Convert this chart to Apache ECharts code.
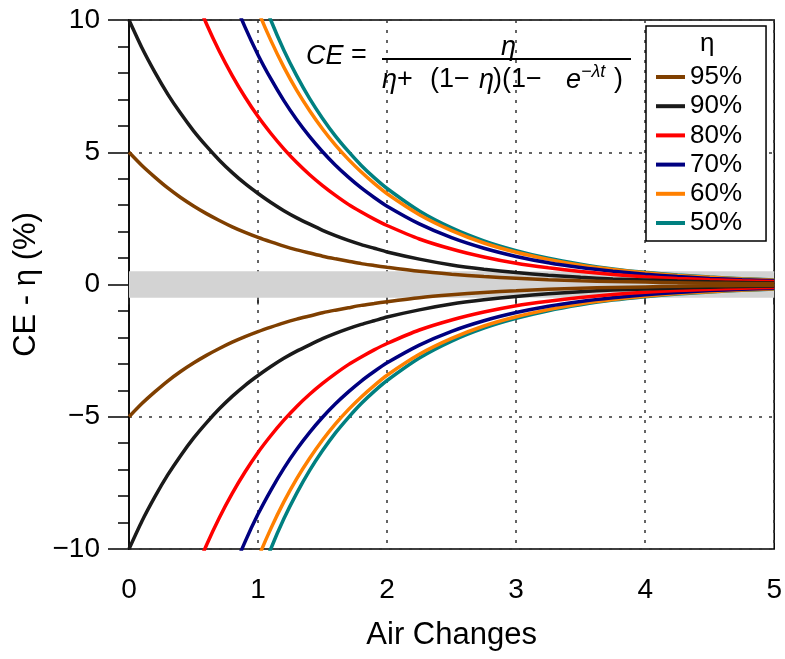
<!DOCTYPE html>
<html>
<head>
<meta charset="utf-8">
<script src="https://cdn.jsdelivr.net/npm/echarts@6/dist/echarts.min.js"></script>
<style>html,body{margin:0;padding:0;background:#fff;}#c{width:785px;height:659px;}</style>
</head>
<body>
<div id="c"></div>
<script>
// Air changes (x)
const airChanges = [0,0.1,0.2,0.3,0.4,0.5,0.6,0.7,0.8,0.9,1.0,1.1,1.2,1.3,1.4,1.5,1.6,1.7,1.8,1.9,2.0,2.25,2.5,2.75,3.0,3.25,3.5,3.75,4.0,4.25,4.5,4.75,5.0];
const seriesNames = ['95%','90%','80%','70%','60%','50%'];
const seriesColors = ['#7f3f00','#1a1a1a','#ff0000','#000080','#ff8000','#008080'];
// Upper branch: CE - eta (%)
const upper95 = [5.00,4.50,4.06,3.65,3.29,2.97,2.68,2.42,2.18,1.97,1.78,1.61,1.45,1.31,1.19,1.07,0.97,0.88,0.79,0.72,0.65,0.50,0.39,0.30,0.24,0.18,0.14,0.11,0.09,0.07,0.05,0.04,0.03];
const upper90 = [10.00,8.95,8.03,7.20,6.47,5.81,5.23,4.70,4.23,3.81,3.44,3.10,2.79,2.52,2.28,2.05,1.85,1.67,1.51,1.37,1.23,0.96,0.74,0.58,0.45,0.35,0.27,0.21,0.17,0.13,0.10,0.08,0.06];
const upper80 = [20.00,17.68,15.66,13.91,12.39,11.04,9.86,8.82,7.90,7.08,6.35,5.71,5.13,4.61,4.15,3.74,3.37,3.03,2.74,2.47,2.23,1.72,1.34,1.04,0.80,0.63,0.49,0.38,0.29,0.23,0.18,0.14,0.11];
const upper70 = [30.00,26.08,22.79,20.00,17.62,15.57,13.80,12.25,10.91,9.72,8.68,7.77,6.95,6.23,5.59,5.02,4.51,4.06,3.65,3.29,2.96,2.29,1.77,1.37,1.06,0.82,0.64,0.50,0.39,0.30,0.23,0.18,0.14];
const upper60 = [40.00,34.03,29.22,25.27,21.98,19.22,16.88,14.87,13.15,11.65,10.35,9.22,8.22,7.34,6.57,5.88,5.27,4.73,4.25,3.82,3.43,2.64,2.04,1.57,1.22,0.95,0.73,0.57,0.44,0.34,0.27,0.21,0.16];
const upper50 = [50.00,41.31,34.65,29.42,25.21,21.76,18.91,16.52,14.49,12.76,11.27,9.98,8.86,7.89,7.03,6.28,5.61,5.03,4.50,4.04,3.63,2.78,2.14,1.65,1.28,0.99,0.77,0.59,0.46,0.36,0.28,0.22,0.17];
// Lower branch
const lower95 = [-5.00,-4.50,-4.06,-3.65,-3.29,-2.97,-2.68,-2.42,-2.18,-1.97,-1.78,-1.61,-1.45,-1.31,-1.19,-1.07,-0.97,-0.88,-0.79,-0.72,-0.65,-0.50,-0.39,-0.30,-0.24,-0.18,-0.14,-0.11,-0.09,-0.07,-0.05,-0.04,-0.03];
const lower90 = [-10.00,-8.95,-8.03,-7.20,-6.47,-5.81,-5.23,-4.70,-4.23,-3.81,-3.44,-3.10,-2.79,-2.52,-2.28,-2.05,-1.85,-1.67,-1.51,-1.37,-1.23,-0.96,-0.74,-0.58,-0.45,-0.35,-0.27,-0.21,-0.17,-0.13,-0.10,-0.08,-0.06];
const lower80 = [-20.00,-17.68,-15.66,-13.91,-12.39,-11.04,-9.86,-8.82,-7.90,-7.08,-6.35,-5.71,-5.13,-4.61,-4.15,-3.74,-3.37,-3.03,-2.74,-2.47,-2.23,-1.72,-1.34,-1.04,-0.80,-0.63,-0.49,-0.38,-0.29,-0.23,-0.18,-0.14,-0.11];
const lower70 = [-30.00,-26.08,-22.79,-20.00,-17.62,-15.57,-13.80,-12.25,-10.91,-9.72,-8.68,-7.77,-6.95,-6.23,-5.59,-5.02,-4.51,-4.06,-3.65,-3.29,-2.96,-2.29,-1.77,-1.37,-1.06,-0.82,-0.64,-0.50,-0.39,-0.30,-0.23,-0.18,-0.14];
const lower60 = [-40.00,-34.03,-29.22,-25.27,-21.98,-19.22,-16.88,-14.87,-13.15,-11.65,-10.35,-9.22,-8.22,-7.34,-6.57,-5.88,-5.27,-4.73,-4.25,-3.82,-3.43,-2.64,-2.04,-1.57,-1.22,-0.95,-0.73,-0.57,-0.44,-0.34,-0.27,-0.21,-0.16];
const lower50 = [-50.00,-41.31,-34.65,-29.42,-25.21,-21.76,-18.91,-16.52,-14.49,-12.76,-11.27,-9.98,-8.86,-7.89,-7.03,-6.28,-5.61,-5.03,-4.50,-4.04,-3.63,-2.78,-2.14,-1.65,-1.28,-0.99,-0.77,-0.59,-0.46,-0.36,-0.28,-0.22,-0.17];
const bandLow = -0.5, bandHigh = 0.5;
const xTicks = [0,1,2,3,4,5];
const yTicks = [-10,-5,0,5,10];

const upperSets = [upper95, upper90, upper80, upper70, upper60, upper50];
const lowerSets = [lower95, lower90, lower80, lower70, lower60, lower50];
const FONT = 'Liberation Sans, Arial, sans-serif';

const series = [{
  type: 'line', name: 'band', data: [], z: -1, silent: true,
  markArea: { silent: true, itemStyle: { color: '#d3d3d3' },
    data: [[{ yAxis: bandLow }, { yAxis: bandHigh }]] }
}];
for (let k = seriesNames.length - 1; k >= 0; k--) {
  [upperSets[k], lowerSets[k]].forEach(arr => {
    series.push({
      type: 'line', name: seriesNames[k], showSymbol: false, symbol: 'none',
      smooth: 0.2, clip: true,
      lineStyle: { color: seriesColors[k], width: 3.5 },
      itemStyle: { color: seriesColors[k] },
      data: airChanges.map((x, i) => [x, arr[i]])
    });
  });
}

function txt(x, y, s, size, italic) {
  return { type: 'text', x: x, y: y, z: 100, silent: true,
    style: { text: s, font: (italic ? 'italic ' : '') + size + 'px ' + FONT, fill: '#000',
      align: 'left', verticalAlign: 'middle', textAlign: 'left', textVerticalAlign: 'middle' } };
}

const chart = echarts.init(document.getElementById('c'), null, { renderer: 'canvas' });
chart.setOption({
  animation: false,
  textStyle: { fontFamily: FONT },
  grid: { left: 129, right: 9, top: 20, bottom: 110, show: true, borderColor: '#000', borderWidth: 1.5, containLabel: false },
  xAxis: {
    type: 'value', min: xTicks[0], max: xTicks[xTicks.length - 1], interval: 1,
    name: 'Air Changes', nameLocation: 'middle', nameGap: 71,
    nameTextStyle: { fontSize: 31, color: '#000', fontFamily: FONT },
    axisLine: { show: true, lineStyle: { color: '#555', width: 1.5 } },
    axisTick: { show: true, inside: false, length: 20, lineStyle: { color: '#222', width: 1.5 } },
    minorTick: { show: true, splitNumber: 2, length: 10, lineStyle: { color: '#222', width: 1.5 } },
    axisLabel: { fontSize: 28, color: '#000', margin: 27, fontFamily: FONT },
    splitLine: { show: true, lineStyle: { color: '#333', width: 1.5, type: [3, 7] } }
  },
  yAxis: {
    type: 'value', min: yTicks[0], max: yTicks[yTicks.length - 1], interval: 5,
    name: 'CE - η (%)', nameLocation: 'middle', nameGap: 84,
    nameTextStyle: { fontSize: 31, color: '#000', fontFamily: FONT },
    axisLine: { show: true, lineStyle: { color: '#000', width: 1.5 } },
    axisTick: { show: true, inside: false, length: 21, lineStyle: { color: '#000', width: 1.5 } },
    minorTick: { show: true, splitNumber: 5, length: 11, lineStyle: { color: '#000', width: 1.5 } },
    axisLabel: { fontSize: 28, color: '#000', margin: 29, fontFamily: FONT,
      formatter: v => String(v).replace('-', '\u2212') },
    splitLine: { show: true, lineStyle: { color: '#333', width: 1.5, type: [3, 7] } }
  },
  legend: {
    data: seriesNames, orient: 'vertical', left: 646, top: 26,
    padding: [38, 24, 5, 10], itemGap: 3.2, itemWidth: 29, itemHeight: 4, icon: 'rect',
    itemTextGap: 14,
    borderColor: '#000', borderWidth: 1.5, backgroundColor: '#fff',
    textStyle: { fontSize: 26, color: '#000', fontFamily: FONT },
    selectedMode: false
  },
  graphic: [
    txt(700, 44, 'η', 26, false),
    { type: 'text', x: 306, y: 56, z: 100, silent: true,
      style: { text: '{i|CE} =', font: '27px ' + FONT, fill: '#000', verticalAlign: 'middle', textVerticalAlign: 'middle',
        rich: { i: { fontStyle: 'italic', fontSize: 27, fontFamily: FONT } } } },
    txt(501, 47, 'η', 27, true),
    { type: 'line', z: 100, silent: true, shape: { x1: 382, y1: 59, x2: 631, y2: 59 }, style: { stroke: '#000', lineWidth: 2 } },
    txt(382, 80, 'η', 27, true),
    txt(397, 80, '+', 27, false),
    txt(430, 80, '(1\u2212', 27, false),
    txt(479, 80, 'η', 27, true),
    txt(493, 80, ')(1\u2212', 27, false),
    txt(566, 80, 'e', 27, true),
    txt(581, 72, '\u2212λt', 18, true),
    txt(614, 80, ')', 27, false)
  ],
  series: series
});
</script>
</body>
</html>
